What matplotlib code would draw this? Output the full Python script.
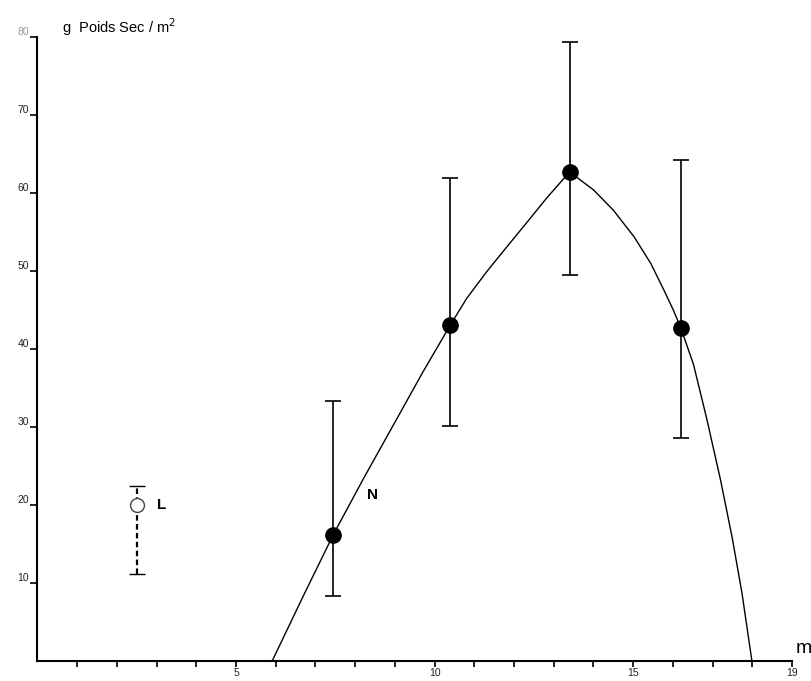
import numpy as np
import matplotlib.pyplot as plt

plt.rcParams['font.family'] = ['Liberation Sans', 'DejaVu Sans']

# station N : mean dry weight with error bars
n_x = [7.45, 10.4, 13.4, 16.2]
n_y = [16.2, 43.1, 62.7, 42.7]
n_top = [33.3, 61.9, 79.4, 64.2]
n_bot = [8.3, 30.1, 49.5, 28.6]

# station L
l_x = [2.5]
l_y = [20.0]
l_top = [22.4]
l_bot = [11.2]

# hand-drawn curve through the N points
curve_x = [5.91, 6.7, 7.45, 8.2, 9.0, 9.7, 10.4, 10.81, 11.31, 11.82, 12.32, 12.83, 13.4,
           14.0, 14.5, 15.02, 15.44, 15.76, 16.01, 16.2, 16.52, 16.86, 17.2, 17.49, 17.74, 17.99]
curve_y = [0, 8.4, 16.2, 23.3, 30.6, 37.0, 43.1, 46.5, 49.9, 53.1, 56.2, 59.4, 62.7,
           60.4, 57.8, 54.4, 51.0, 47.7, 45.0, 42.7, 38.0, 30.9, 23.2, 15.9, 8.7, 0]

xticks = list(range(1, 20))
xlabels = ['5', '10', '15', '19']
yticks = [10, 20, 30, 40, 50, 60, 70, 80]

fig = plt.figure(figsize=(8.11, 6.81), dpi=100)
ax = fig.add_axes([0.0462, 0.0294, 0.9304, 0.9163])

ax.plot(curve_x, curve_y, color='black', lw=1.0)

n_err = [np.array(n_y) - np.array(n_bot), np.array(n_top) - np.array(n_y)]
ax.errorbar(n_x, n_y, yerr=n_err, fmt='o', color='black', ms=11,
            ecolor='black', elinewidth=1.2, capsize=6, capthick=1.2)

l_err = [np.array(l_y) - np.array(l_bot), np.array(l_top) - np.array(l_y)]
eb = ax.errorbar(l_x, l_y, yerr=l_err, fmt='o', mfc='white', mec='#444444',
                 mew=1.0, ms=10, ecolor='black', elinewidth=1.6,
                 capsize=6, capthick=1.6, zorder=3)
eb[2][0].set_linestyle((0, (2.5, 1.5)))

ax.text(3.0, 20, 'L', fontsize=11, fontweight='bold', va='center')
ax.text(8.3, 21.3, 'N', fontsize=11, fontweight='bold', va='center')

ax.set_xlim(0, 19)
ax.set_ylim(0, 80)
ax.set_xticks(xticks)
ax.set_xticklabels([str(t) if str(t) in xlabels else '' for t in xticks])
ax.set_yticks(yticks)
ax.set_yticklabels([str(t) for t in yticks])
ax.tick_params(axis='x', direction='out', length=4, width=1.2, labelsize=7.5, pad=1,
               labelcolor='#222222')
ax.tick_params(axis='y', direction='out', length=5, width=1.2, labelsize=7.5,
               pad=1, labelcolor='#222222')
for lab in ax.get_yticklabels():
    lab.set_va('bottom')
ax.get_yticklabels()[-1].set_color('#999999')

for s in ['top', 'right']:
    ax.spines[s].set_visible(False)
for s in ['left', 'bottom']:
    ax.spines[s].set_linewidth(1.5)

ax.text(0.62, 81.3, 'g  Poids Sec / m$^{2}$', fontsize=10.5, va='center',
        clip_on=False)
ax.text(19.1, 0.5, 'm', fontsize=14, va='bottom', clip_on=False)

fig.savefig('out.png', dpi=100)
